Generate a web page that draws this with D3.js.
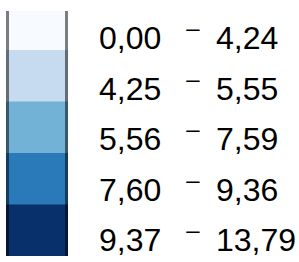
<!DOCTYPE html>
<html><head><meta charset="utf-8">
<script src="https://cdn.jsdelivr.net/npm/d3@7"></script>
<style>html,body{margin:0;padding:0;background:#fff;}</style>
</head><body>
<script>
const classes = ["c1","c2","c3","c4","c5"];
const lowLabels = ["0,00","4,25","5,56","7,60","9,37"];
const highLabels = ["4,24","5,55","7,59","9,36","13,79"];
const colors = ["#f7fbff","#c6dbef","#72b2d7","#2a79b9","#08306b"];

const W = 299, H = 262;
const svg = d3.select("body").append("svg").attr("width", W).attr("height", H);

const ySw = d3.scaleBand().domain(classes).range([-1.5, 256]);
const yTx = d3.scalePoint().domain(classes).range([49, 251]);
const color = d3.scaleOrdinal().domain(classes).range(colors);

svg.append("clipPath").attr("id","clip").append("rect")
  .attr("x", 0).attr("y", 11).attr("width", W).attr("height", 245);

const g = svg.append("g").attr("clip-path","url(#clip)");
g.selectAll("rect.sw").data(classes).join("rect")
  .attr("class","sw")
  .attr("x", 6).attr("width", 62)
  .attr("y", d => ySw(d)).attr("height", ySw.bandwidth() + 0.5)
  .attr("fill", d => color(d));
g.selectAll("line.edge").data([7.5, 66.5]).join("line")
  .attr("x1", d => d).attr("x2", d => d).attr("y1", 0).attr("y2", H)
  .attr("stroke", "#000").attr("stroke-opacity", 0.5).attr("stroke-width", 3);

const font = "Liberation Sans, Arial, sans-serif";
svg.selectAll("text.lo").data(classes).join("text")
  .attr("class","lo").attr("x", 99).attr("y", d => yTx(d))
  .attr("font-family", font).attr("font-size", 32).attr("fill","#000")
  .text((d,i) => lowLabels[i]);
svg.selectAll("text.dash").data(classes).join("text")
  .attr("class","dash").attr("x", 193).attr("y", d => yTx(d) - 13)
  .attr("text-anchor","middle")
  .attr("font-family", font).attr("font-size", 24).attr("fill","#000")
  .text("–");
svg.selectAll("text.hi").data(classes).join("text")
  .attr("class","hi").attr("x", 216).attr("y", d => yTx(d))
  .attr("font-family", font).attr("font-size", 32).attr("fill","#000")
  .text((d,i) => highLabels[i]);
</script>
</body></html>
